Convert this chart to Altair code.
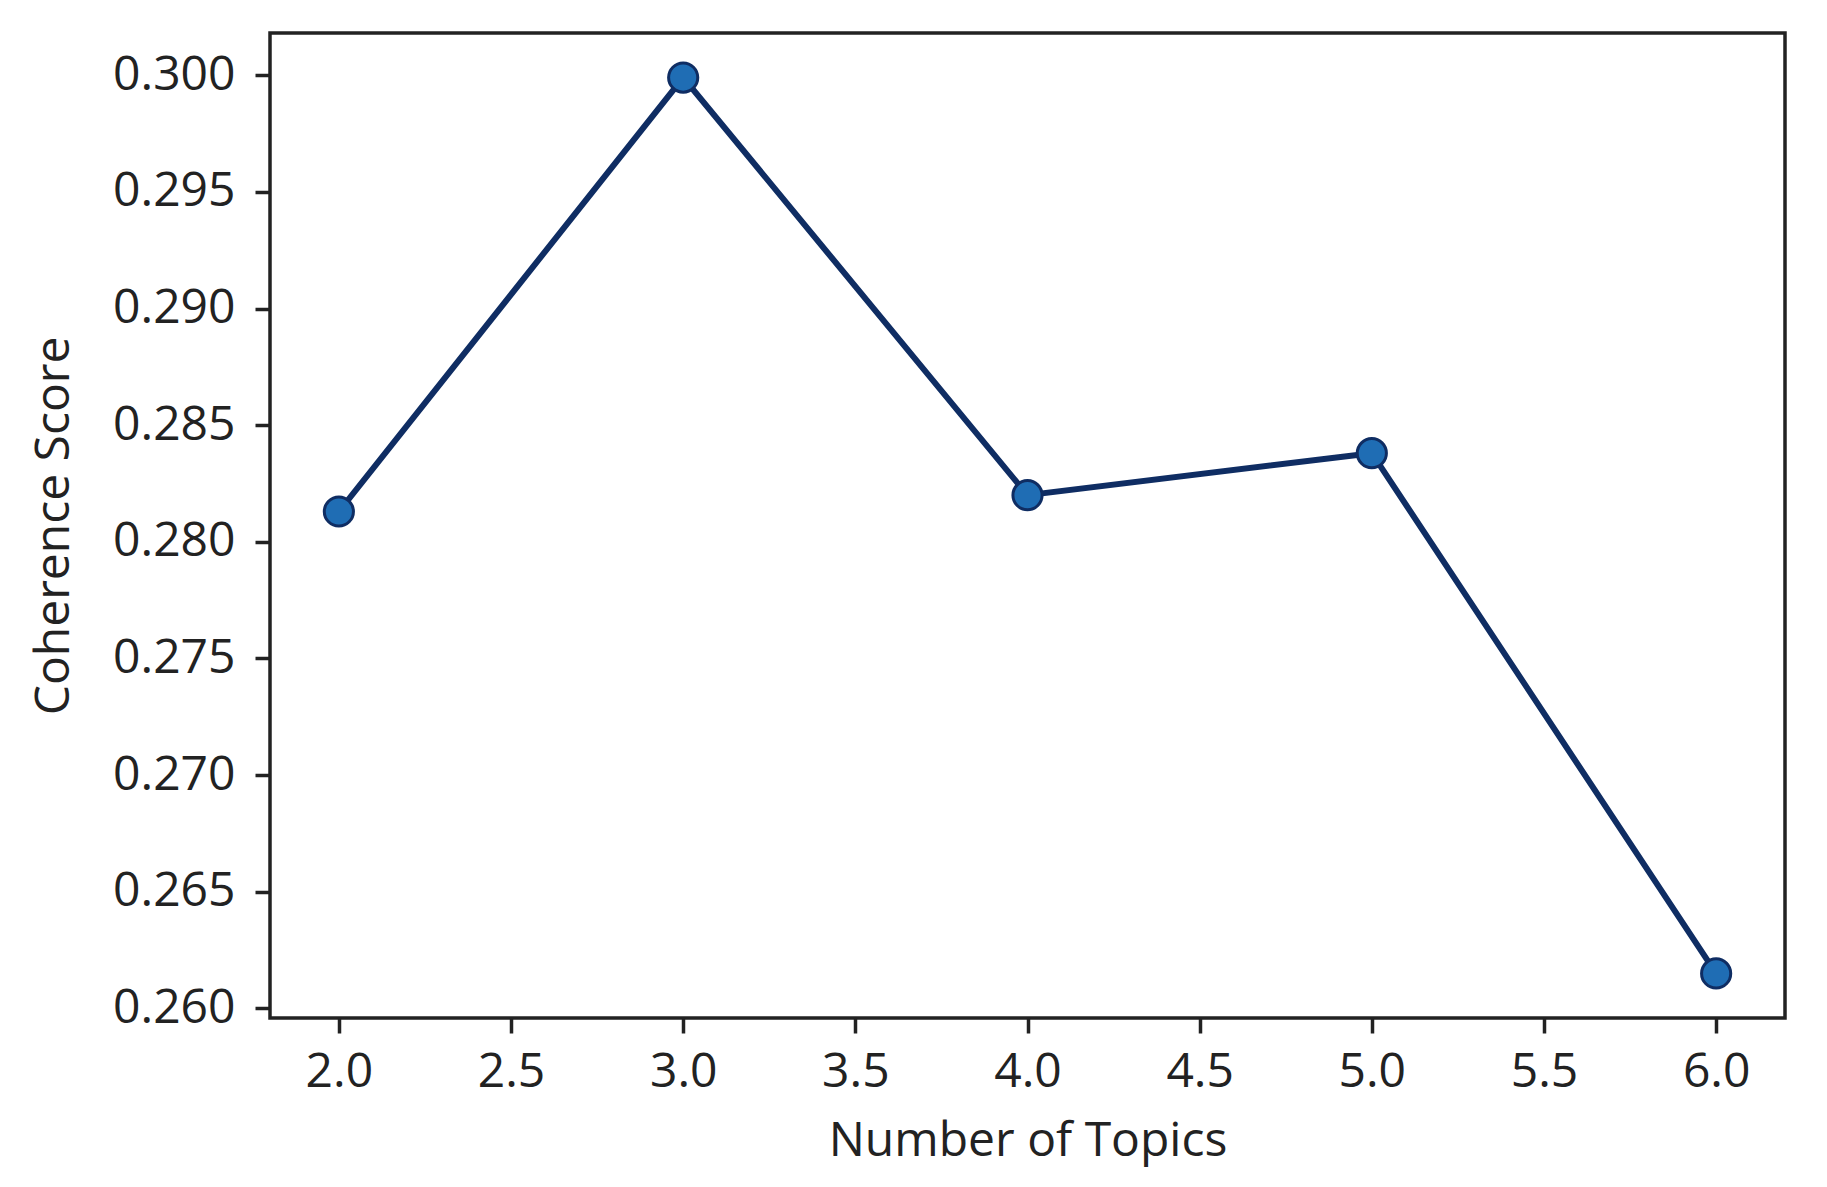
import altair as alt
import pandas as pd

topics = [2, 3, 4, 5, 6]
coherence = [0.2813, 0.2999, 0.2820, 0.2838, 0.2615]
x_ticks = [2.0, 2.5, 3.0, 3.5, 4.0, 4.5, 5.0, 5.5, 6.0]
y_ticks = [0.260, 0.265, 0.270, 0.275, 0.280, 0.285, 0.290, 0.295, 0.300]

df = pd.DataFrame({"topics": topics, "coherence": coherence})

FONT = "Open Sans"
TXT = "#222222"
LINE = "#0f2d63"
FILL = "#1f6db4"

x = alt.X(
    "topics:Q",
    scale=alt.Scale(domain=[1.8, 6.2], nice=False, zero=False),
    axis=alt.Axis(
        title="Number of Topics",
        values=x_ticks,
        format=".1f",
        grid=False,
        domain=False,
        tickSize=15,
        tickWidth=3.5,
        tickColor=TXT,
        labelPadding=15,
        titlePadding=21,
    ),
)
y = alt.Y(
    "coherence:Q",
    scale=alt.Scale(domain=[0.25959, 0.30181], nice=False, zero=False),
    axis=alt.Axis(
        title="Coherence Score",
        values=y_ticks,
        format=".3f",
        grid=False,
        domain=False,
        tickSize=15,
        tickWidth=3.5,
        tickColor=TXT,
        labelPadding=20,
        titlePadding=34,
    ),
)

line = alt.Chart(df).mark_line(color=LINE, strokeWidth=6).encode(x=x, y=y)
pts = alt.Chart(df).mark_point(
    shape="circle", filled=True, fill=FILL, stroke=LINE, strokeWidth=3, size=850, opacity=1
).encode(x=x, y=y)

chart = (
    (line + pts)
    .properties(
        width=1515,
        height=985,
        autosize=alt.AutoSizeParams(type="none"),
        padding={"left": 262, "top": 25, "right": 34, "bottom": 161},
    )
    .configure_view(stroke=TXT, strokeWidth=3.5)
    .configure_axis(
        labelFont=FONT,
        titleFont=FONT,
        labelFontSize=48,
        titleFontSize=48,
        titleFontWeight="normal",
        labelColor=TXT,
        titleColor=TXT,
    )
)

chart.save("out.html", embed_options={"renderer": "svg", "actions": False})
